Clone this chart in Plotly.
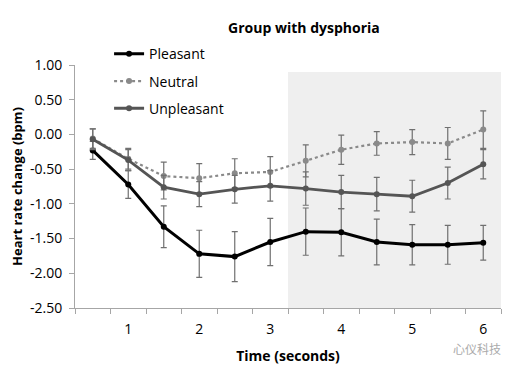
import plotly.graph_objects as go

time_s = [0.5, 1.0, 1.5, 2.0, 2.5, 3.0, 3.5, 4.0, 4.5, 5.0, 5.5, 6.0]
pleasant = [-0.23, -0.72, -1.33, -1.72, -1.76, -1.55, -1.40, -1.41, -1.55, -1.59, -1.59, -1.56]
pleasant_err = [0.13, 0.20, 0.30, 0.34, 0.36, 0.34, 0.34, 0.34, 0.33, 0.29, 0.28, 0.25]
neutral = [-0.06, -0.35, -0.60, -0.63, -0.56, -0.54, -0.38, -0.22, -0.13, -0.11, -0.13, 0.07]
neutral_err = [0.14, 0.15, 0.20, 0.21, 0.21, 0.22, 0.23, 0.21, 0.17, 0.18, 0.23, 0.27]
unpleasant = [-0.07, -0.37, -0.76, -0.86, -0.79, -0.74, -0.78, -0.83, -0.86, -0.89, -0.70, -0.43]
unpleasant_err = [0.15, 0.15, 0.17, 0.18, 0.20, 0.22, 0.24, 0.24, 0.24, 0.23, 0.23, 0.21]
x_ticks = [1, 2, 3, 4, 5, 6]
y_ticks = [1.0, 0.5, 0.0, -0.5, -1.0, -1.5, -2.0, -2.5]

FONT = "Open Sans"
err_col = "#707070"

fig = go.Figure()

def add(name, y, err, color, width, dash, gid):
    fig.add_trace(go.Scatter(
        x=time_s, y=y, name=name, mode="lines+markers",
        legendgroup=gid,
        line=dict(color=color, width=width, dash=dash),
        marker=dict(color=color, size=6),
        error_y=dict(type="data", array=err, visible=True,
                     color=err_col, thickness=1.2, width=3),
    ))

add("Pleasant", pleasant, pleasant_err, "#000000", 3, "solid", "a")
add("Neutral", neutral, neutral_err, "#8a8a8a", 2.2, "dot", "b")
add("Unpleasant", unpleasant, unpleasant_err, "#555555", 2.8, "solid", "c")

fig.add_shape(type="rect", xref="x", yref="y", x0=3.25, x1=6.25, y0=-2.5, y1=0.9,
              fillcolor="#efefef", line=dict(width=0), layer="below")

fig.update_layout(
    width=512, height=357,
    margin=dict(l=67, r=19, t=57, b=57),
    paper_bgcolor="white", plot_bgcolor="white",
    font=dict(family=FONT, size=13, color="#000000"),
    title=dict(text="<b>Group with dysphoria</b>", x=0.578, xanchor="center",
               y=0.944, yanchor="middle", font=dict(size=14, family=FONT)),
    showlegend=True,
    legend=dict(x=0.08, y=1.11, xanchor="left", yanchor="top",
                bgcolor="rgba(0,0,0,0)", tracegroupgap=6,
                font=dict(size=14, family=FONT)),
    xaxis=dict(range=[0.25, 6.25], tickvals=x_ticks, ticktext=[str(v) for v in x_ticks],
               ticks="", ticklabelstandoff=8, showgrid=False, zeroline=False, automargin=False,
               showline=True, linecolor="#a6a6a6", linewidth=1,
               minor=dict(tick0=0.25, dtick=0.5, ticks="outside", ticklen=5,
                          tickcolor="#a6a6a6", showgrid=False),
               title=dict(text="<b>Time (seconds)</b>", standoff=14,
                          font=dict(size=14, family=FONT)),
               tickfont=dict(size=14)),
    yaxis=dict(range=[-2.5, 1.0], tickvals=y_ticks,
               ticktext=[f"{v:.2f}" for v in y_ticks],
               ticks="outside", ticklen=5, tickcolor="#a6a6a6", ticklabelstandoff=4,
               showgrid=False, zeroline=False, automargin=False,
               showline=True, linecolor="#a6a6a6", linewidth=1,
               title=dict(text="<b>Heart rate change (bpm)</b>", standoff=8,
                          font=dict(size=13, family=FONT)),
               tickfont=dict(size=14)),
)

fig.add_annotation(text="心仪科技", xref="paper", yref="paper", x=1.005, y=-0.165,
                   xanchor="right", yanchor="middle", showarrow=False,
                   font=dict(family="Noto Sans CJK SC", size=12, color="#ababab"))

fig.write_html("out.html")
